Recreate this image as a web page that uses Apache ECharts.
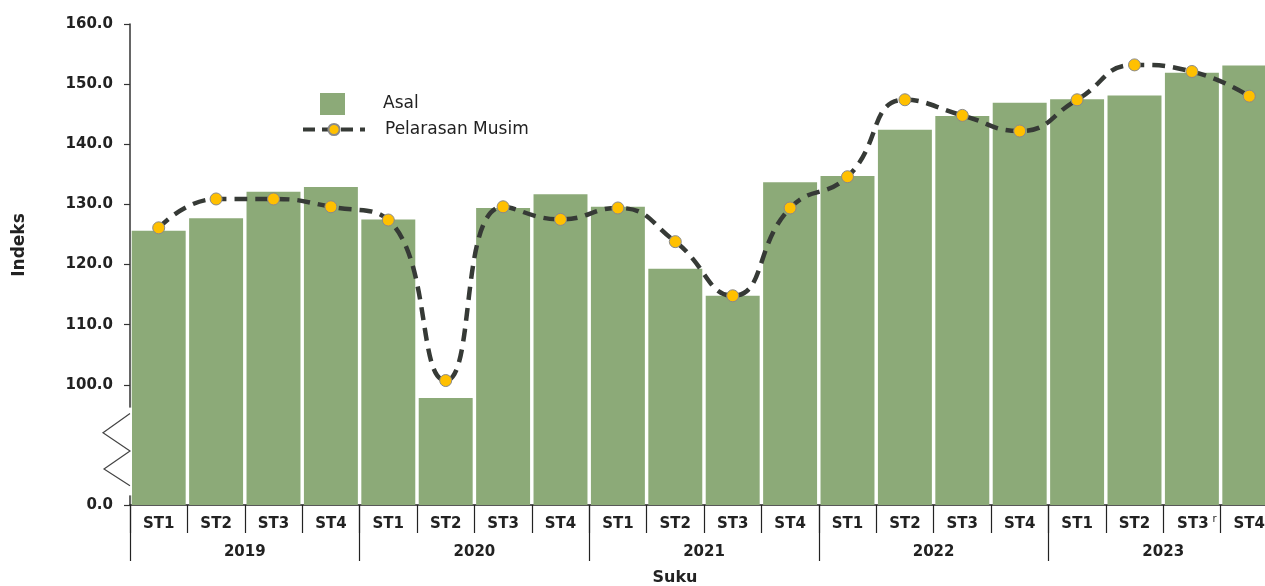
<!DOCTYPE html>
<html>
<head>
<meta charset="utf-8">
<script src="https://cdn.jsdelivr.net/npm/echarts@6/dist/echarts.min.js"></script>
<style>
  html, body { margin: 0; padding: 0; background: #fff; }
  #chart { width: 1265px; height: 586px; }
</style>
</head>
<body>
<div id="chart"></div>
<script>
const quarters = ['ST1', 'ST2', 'ST3', 'ST4', 'ST1', 'ST2', 'ST3', 'ST4', 'ST1', 'ST2',
    'ST3', 'ST4', 'ST1', 'ST2', 'ST3', 'ST4', 'ST1', 'ST2', 'ST3', 'ST4']
const years = ['2019', '2020', '2021', '2022', '2023']
const asal = [125.6, 127.7, 132.1, 132.9, 127.5, 97.8, 129.4, 131.7, 129.6, 119.3,
    114.8, 133.7, 134.7, 142.4, 144.7, 146.9, 147.5, 148.1, 151.9, 153.1]
const musim = [126.1, 130.9, 130.9, 129.6, 127.4, 100.7, 129.6, 127.5, 129.4, 123.8,
    114.8, 129.4, 134.6, 147.4, 144.8, 142.2, 147.4, 153.2, 152.1, 148.0]
const yTicks = [80, 100, 110, 120, 130, 140, 150, 160]
const revisedIndex = 18

const font = 'DejaVu Sans'
const dark = '#222'
const chart = echarts.init(document.getElementById('chart'))

const option = {
    backgroundColor: '#fff',
    animation: false,
    grid: { left: 130, top: 24, width: 1148, bottom: 81, outerBoundsMode: 'none' },
    legend: [{
        data: ['Asal'],
        left: 320,
        top: 93,
        padding: 0,
        icon: 'rect',
        itemWidth: 25,
        itemHeight: 22,
        textStyle: { fontFamily: font, fontSize: 17, color: dark, padding: [0, 0, 0, 33] }
    }, {
        data: ['Pelarasan Musim'],
        left: 301,
        top: 121,
        padding: 0,
        itemWidth: 62,
        itemHeight: 14,
        lineStyle: { width: 4, type: [12, 7] },
        textStyle: { fontFamily: font, fontSize: 17, color: dark, padding: [0, 0, 0, 15] }
    }],
    xAxis: [{
        type: 'category',
        data: quarters,
        position: 'bottom',
        axisLine: { lineStyle: { color: dark, width: 1.5 } },
        axisTick: { show: true, interval: 0, length: 28, lineStyle: { color: dark, width: 1.2 } },
        axisLabel: {
            interval: 0,
            margin: 9,
            formatter: (v, i) => i === revisedIndex ? '{p|}{b|' + v + '}{r|r}' : '{b|' + v + '}',
            rich: {
                b: { fontFamily: font, fontWeight: 'bold', fontSize: 15, color: dark, lineHeight: 20 },
                p: { width: 10, lineHeight: 20 },
                r: { fontFamily: font, fontSize: 10, color: dark, lineHeight: 10, verticalAlign: 'top', padding: [0, 0, 0, 4] }
            }
        }
    }, {
        type: 'category',
        data: years,
        position: 'bottom',
        axisLine: { show: false },
        axisTick: { show: true, interval: 0, length: 56, lineStyle: { color: dark, width: 1.2 } },
        axisLabel: { interval: 0, margin: 40, fontFamily: font, fontWeight: 'bold', fontSize: 15, color: dark }
    }],
    yAxis: {
        type: 'value',
        min: 80,
        max: 160,
        interval: 10,
        splitLine: { show: false },
        axisLine: { show: true, lineStyle: { color: '#333', width: 1.5 } },
        axisTick: { show: true, length: 6, customValues: yTicks, lineStyle: { color: '#333', width: 1.2 } },
        axisLabel: {
            customValues: yTicks,
            margin: 17,
            fontFamily: font,
            fontWeight: 'bold',
            fontSize: 15,
            color: dark,
            formatter: v => v === 80 ? '0.0' : v.toFixed(1)
        }
    },
    series: [{
        name: 'Asal',
        type: 'bar',
        data: asal,
        barCategoryGap: '6%',
        itemStyle: { color: '#8caa78' }
    }, {
        name: 'Pelarasan Musim',
        type: 'line',
        data: musim,
        smooth: 0.5,
        symbol: 'circle',
        symbolSize: 12,
        lineStyle: { color: '#363a36', width: 4.5, type: [13, 8] },
        itemStyle: { color: '#ffc000', borderColor: '#8a8a8a', borderWidth: 1 }
    }]
}
chart.setOption(option)

// axis break decoration on the y axis between 0 and 100
const px = v => chart.convertToPixel({ yAxisIndex: 0 }, v)
const ax = 130
chart.setOption({
    graphic: [{
        type: 'rect',
        shape: { x: ax - 3, y: px(96.2), width: 5, height: px(81.6) - px(96.2) },
        style: { fill: '#fff' },
        z: 10
    }, {
        type: 'polyline',
        shape: {
            points: [[ax, px(95.2)], [ax - 27, px(92.0)], [ax, px(89.0)], [ax - 26, px(86.0)], [ax, px(83.2)]]
        },
        style: { stroke: '#444', lineWidth: 1.2, fill: null },
        z: 10
    }, {
        type: 'text',
        x: 20,
        y: 245,
        rotation: Math.PI / 2,
        style: { text: 'Indeks', font: 'bold 17px "DejaVu Sans"', fill: dark, align: 'center', verticalAlign: 'middle' }
    }, {
        type: 'text',
        x: 675,
        y: 578,
        style: { text: 'Suku', font: 'bold 16px "DejaVu Sans"', fill: dark, align: 'center', verticalAlign: 'middle' }
    }]
})
</script>
</body>
</html>
